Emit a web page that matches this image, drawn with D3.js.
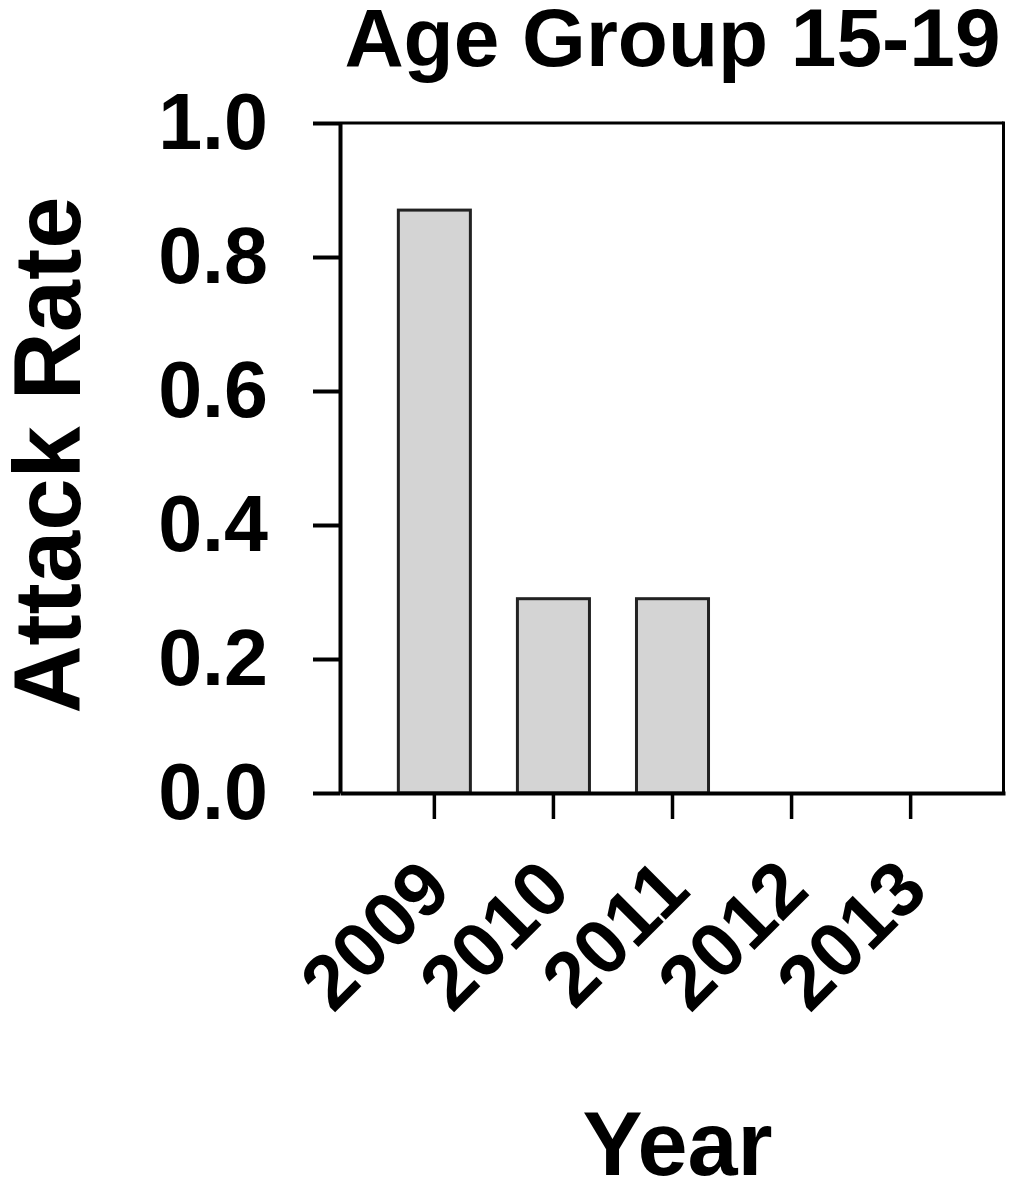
<!DOCTYPE html>
<html>
<head>
<meta charset="utf-8">
<script src="https://cdn.jsdelivr.net/npm/d3@7"></script>
<style>
  body { margin: 0; background: #fff; }
  svg text { font-family: "Liberation Sans", Arial, sans-serif; font-weight: bold; fill: #000; }
</style>
</head>
<body>
<svg id="chart"></svg>
<script>
const years = ["2009", "2010", "2011", "2012", "2013"];
const attackRate = [0.87, 0.29, 0.29, 0, 0];
const yTicks = [0, 0.2, 0.4, 0.6, 0.8, 1.0];

const width = 1020;
const height = 1190;
const margin = { top: 123, right: 15, bottom: 397, left: 340 }; // plot box 340..1005, 123..793

const data = years.map((y, i) => ({ year: y, value: attackRate[i] }));

const svg = d3.select("#chart")
  .attr("width", width)
  .attr("height", height);

const xScale = d3.scaleBand()
  .domain(years)
  .range([margin.left, width - margin.right])
  .paddingInner(0.395)
  .paddingOuter(0.49);

const yScale = d3.scaleLinear()
  .domain([0, 1])
  .range([height - margin.bottom, margin.top]);

// frame top and right
svg.append("line")
  .attr("x1", margin.left).attr("x2", width - margin.right - 1.5)
  .attr("y1", yScale(1)).attr("y2", yScale(1))
  .attr("stroke", "#000").attr("stroke-width", 3);
svg.append("line")
  .attr("x1", width - margin.right - 1.5).attr("x2", width - margin.right - 1.5)
  .attr("y1", yScale(1) - 1.5).attr("y2", yScale(0))
  .attr("stroke", "#000").attr("stroke-width", 3);

// bars
svg.selectAll("rect.bar")
  .data(data.filter(d => d.value > 0))
  .enter()
  .append("rect")
  .attr("class", "bar")
  .attr("x", d => xScale(d.year))
  .attr("y", d => yScale(d.value))
  .attr("width", xScale.bandwidth())
  .attr("height", d => yScale(0) - yScale(d.value))
  .attr("fill", "#d4d4d4")
  .attr("stroke", "#222")
  .attr("stroke-width", 3);

// y axis
const yAxis = d3.axisLeft(yScale)
  .tickValues(yTicks)
  .tickFormat(d3.format(".1f"))
  .tickSize(27)
  .tickSizeOuter(0)
  .tickPadding(45);

const gy = svg.append("g")
  .attr("transform", `translate(${margin.left}, 0)`)
  .call(yAxis);
gy.select(".domain").attr("stroke-width", 4);
gy.selectAll(".tick line").attr("stroke-width", 4);
gy.selectAll(".tick text")
  .style("font-size", "79px");

// x axis
const xAxis = d3.axisBottom(xScale)
  .tickSize(26)
  .tickSizeOuter(0);

const gx = svg.append("g")
  .attr("transform", `translate(0, ${yScale(0)})`)
  .call(xAxis);
gx.select(".domain").attr("stroke-width", 4);
gx.selectAll(".tick line").attr("stroke-width", 3.5);
gx.selectAll(".tick text")
  .style("font-size", "77px")
  .attr("text-anchor", "end")
  .attr("dy", null)
  .attr("y", 0)
  .attr("transform", "translate(20, 100) rotate(-45)");

// titles
svg.append("text")
  .attr("x", (margin.left + width - margin.right) / 2)
  .attr("y", 66)
  .attr("text-anchor", "middle")
  .style("font-size", "82px")
  .text("Age Group 15-19");

svg.append("text")
  .attr("transform", `translate(80, ${(yScale(0) + yScale(1)) / 2 - 3}) rotate(-90)`)
  .attr("text-anchor", "middle")
  .style("font-size", "94px")
  .text("Attack Rate");

svg.append("text")
  .attr("x", (margin.left + width - margin.right) / 2 + 5)
  .attr("y", 1175)
  .attr("text-anchor", "middle")
  .style("font-size", "90px")
  .text("Year");
</script>
</body>
</html>
